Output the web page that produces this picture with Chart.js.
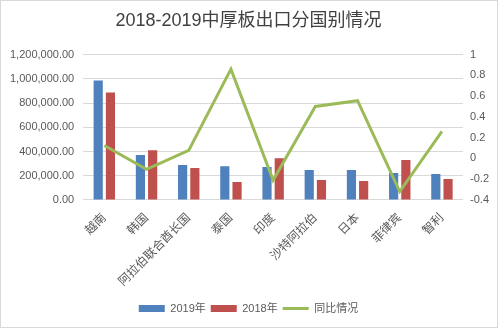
<!DOCTYPE html>
<html>
<head>
<meta charset="utf-8">
<script src="https://cdn.jsdelivr.net/npm/chart.js@4"></script>
<style>
  html, body { margin: 0; padding: 0; background: #fff; }
  #wrap { width: 498px; height: 328px; }
</style>
</head>
<body>
<div id="wrap"><canvas id="chart" width="498" height="328"></canvas></div>
<script>
const countries = ['越南', '韩国', '阿拉伯联合酋长国', '泰国', '印度', '沙特阿拉伯', '日本', '菲律宾', '智利'];
const exports2019 = [986000, 370000, 288000, 279000, 271000, 247000, 247000, 222000, 214000];
const exports2018 = [887000, 411000, 263000, 148000, 345000, 164000, 156000, 329000, 173000];
const yoyChange = [0.125, -0.105, 0.077, 0.86, -0.21, 0.50, 0.556, -0.32, 0.26];

const FONT = "'Liberation Sans', 'Noto Sans CJK SC', sans-serif";

const frame = {
  id: 'frame',
  beforeDraw(chart) {
    const c = chart.ctx;
    c.save();
    c.fillStyle = '#fff';
    c.fillRect(0, 0, chart.width, chart.height);
    c.strokeStyle = '#D9D9D9';
    c.lineWidth = 1;
    c.strokeRect(0.5, 0.5, chart.width - 1, chart.height - 1);
    c.restore();
  }
};

const ctx = document.getElementById('chart');
new Chart(ctx, {
  type: 'bar',
  data: {
    labels: countries,
    datasets: [
      {
        label: '2019年',
        data: exports2019,
        backgroundColor: '#4F81BD',
        yAxisID: 'y',
        pointStyle: 'rect',
        order: 1
      },
      {
        label: '2018年',
        data: exports2018,
        backgroundColor: '#C0504D',
        yAxisID: 'y',
        pointStyle: 'rect',
        order: 1
      },
      {
        type: 'line',
        label: '同比情况',
        data: yoyChange,
        borderColor: '#9BBB59',
        backgroundColor: '#9BBB59',
        borderWidth: 3,
        pointRadius: 0,
        tension: 0,
        yAxisID: 'y1',
        pointStyle: 'line',
        order: 0
      }
    ]
  },
  options: {
    responsive: false,
    animation: false,
    layout: { padding: { left: 1, right: 2, top: 0, bottom: 4 } },
    datasets: {
      bar: { categoryPercentage: 0.58, barPercentage: 0.75 }
    },
    plugins: {
      title: {
        display: true,
        text: '2018-2019中厚板出口分国别情况',
        color: '#404040',
        font: { family: FONT, size: 18, weight: 'normal' },
        padding: { top: 10, bottom: 23 }
      },
      legend: {
        position: 'bottom',
        labels: {
          usePointStyle: true,
          pointStyleWidth: 26,
          boxHeight: 7,
          color: '#595959',
          font: { family: FONT, size: 11 },
          padding: 5,
          sort: (a, b) => a.datasetIndex - b.datasetIndex
        }
      },
      tooltip: { enabled: false }
    },
    scales: {
      x: {
        grid: { display: false },
        border: { display: false },
        afterFit: scale => { scale.height += 6; },
        ticks: {
          color: '#595959',
          font: { family: FONT, size: 12 },
          minRotation: 45,
          maxRotation: 45,
          autoSkip: false
        }
      },
      y: {
        position: 'left',
        min: 0,
        max: 1200000,
        grid: { color: '#D9D9D9', drawTicks: false },
        border: { display: false },
        ticks: {
          stepSize: 200000,
          padding: 9,
          color: '#595959',
          font: { family: FONT, size: 11 },
          callback: v => v.toLocaleString('en-US', { minimumFractionDigits: 2, maximumFractionDigits: 2 })
        }
      },
      y1: {
        position: 'right',
        min: -0.4,
        max: 1,
        grid: { drawOnChartArea: false, drawTicks: false },
        border: { display: false },
        ticks: {
          stepSize: 0.2,
          padding: 7,
          color: '#595959',
          font: { family: FONT, size: 11 },
          callback: v => String(Number(v.toFixed(1)))
        }
      }
    }
  },
  plugins: [frame]
});
</script>
</body>
</html>
